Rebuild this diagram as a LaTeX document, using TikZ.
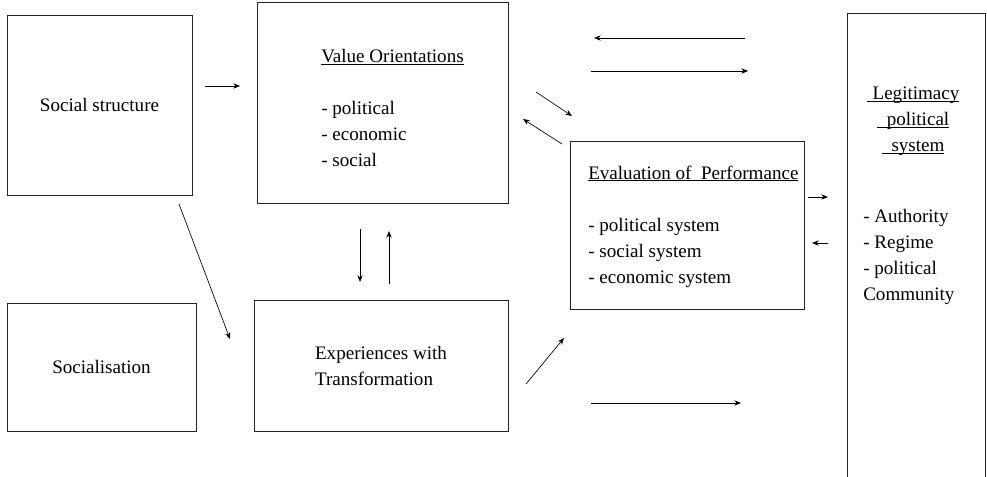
\documentclass[tikz,border=0pt]{standalone}
\usepackage{fontspec}
\setmainfont{Liberation Serif}
\usetikzlibrary{positioning,arrows.meta}
\newsavebox\ulsave
\newcommand\ulbox[1]{\sbox\ulsave{#1}\rlap{\rule[-1.6pt]{\wd\ulsave}{0.6pt}}\usebox\ulsave}

\begin{document}
\begin{tikzpicture}[x=0.75pt,y=-0.75pt,font=\fontsize{14.3}{19.5}\selectfont,box/.style={draw=black!85,line width=0.6pt,inner sep=0pt,align=center},txt/.style={align=left,inner sep=0pt,anchor=base west},arr/.style={-{Stealth[length=5pt,width=4pt]},line width=0.5pt}]
\useasboundingbox (0,0) rectangle (987,477);
\node[box,minimum width=138.75pt,minimum height=135pt] (social) at (99.5,105) {Social structure};
\node[box,minimum width=188.25pt,minimum height=150.75pt] (values) at (382.5,102.5) {};
\node[box,minimum width=175.5pt,minimum height=126pt] (evaluation) at (687,225) {};
\node[box,minimum width=141.75pt,minimum height=96pt] (socialisation) at (101.5,367) {Socialisation};
\node[box,align=left,minimum width=190.5pt,minimum height=98.25pt] (experiences) at (381,365.5) {Experiences with\\Transformation};
\node[box,minimum width=103.9pt,minimum height=358.5pt] (legitimacy) at (916.2,252) {};
% multi-line texts sit on their last baseline
\node[txt] (valuestext) at (321,167) {\ulbox{Value Orientations}\\ \mbox{}\\- political\\- economic\\- social};
\node[txt] (evaltext) at (588,283) {\ulbox{Evaluation of\ \ Performance}\\ \mbox{}\\- political system\\- social system\\- economic system};
\node[inner sep=0pt,align=center,anchor=base] (legtitle) at (913,152) {\ulbox{\hspace{4.5pt}Legitimacy}\\\ulbox{\hspace{7.5pt}political}\\\ulbox{\hspace{7.5pt}system}};
\node[txt] (legtext) at (863,300) {- Authority\\- Regime\\- political\\Community};
% free arrow ends
\coordinate (s1) at (205,86); \coordinate (v1) at (240,86);
\coordinate (l1) at (745,38); \coordinate (v2) at (594,38);
\coordinate (v3) at (591,71); \coordinate (l2) at (748,71);
\coordinate (v4) at (536,92); \coordinate (e1) at (572,116);
\coordinate (e2) at (562,144); \coordinate (v5) at (523,119);
\coordinate (e3) at (808,197); \coordinate (l3) at (828,197);
\coordinate (l4) at (828,243); \coordinate (e4) at (812,243);
\coordinate (v6) at (360,229); \coordinate (x1) at (360,282);
\coordinate (x2) at (389,284); \coordinate (v7) at (389,231);
\coordinate (s2) at (179,204); \coordinate (x3) at (230,339);
\coordinate (x4) at (526,384); \coordinate (e5) at (564,338);
\coordinate (x5) at (591,403); \coordinate (l5) at (741,403);
\draw[arr] (s1) -- (v1);
\draw[arr] (l1) -- (v2);
\draw[arr] (v3) -- (l2);
\draw[arr] (v4) -- (e1);
\draw[arr] (e2) -- (v5);
\draw[arr] (e3) -- (l3);
\draw[arr] (l4) -- (e4);
\draw[arr] (v6) -- (x1);
\draw[arr] (x2) -- (v7);
\draw[arr] (s2) -- (x3);
\draw[arr] (x4) -- (e5);
\draw[arr] (x5) -- (l5);
\end{tikzpicture}
\end{document}
